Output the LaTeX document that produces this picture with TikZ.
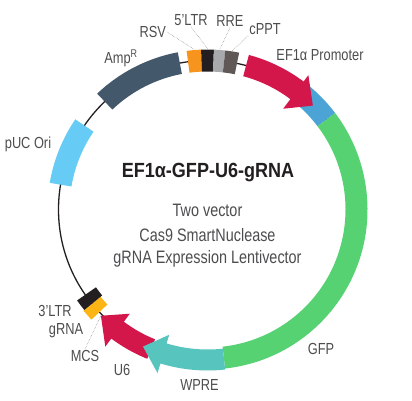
\documentclass[tikz,border=0pt]{standalone}
\usepackage{fontspec}
\setmainfont[FakeStretch=0.8]{Liberation Sans}
\newfontfamily\titlefont[FakeStretch=0.88]{Liberation Sans}
\definecolor{cRed}{HTML}{D3174A}
\definecolor{cBlue}{HTML}{4BA3D6}
\definecolor{cGreen}{HTML}{56D273}
\definecolor{cTeal}{HTML}{58C4BE}
\definecolor{cSky}{HTML}{66CBF5}
\definecolor{cAmp}{HTML}{43596B}
\definecolor{cOrange}{HTML}{F7941D}
\definecolor{cYellow}{HTML}{FDB515}
\definecolor{cBlack}{HTML}{231F20}
\definecolor{cGray}{HTML}{A7A9AC}
\definecolor{cDark}{HTML}{5F5856}
\definecolor{cText}{HTML}{4D4D4F}
\begin{document}
\begin{tikzpicture}[x=1pt,y=1pt,
  lab/.style={text=cText,font=\fontsize{16}{16}\selectfont,inner sep=1pt},
  mid/.style={text=cText,font=\fontsize{18}{18}\selectfont,inner sep=1pt},
  leader/.style={cText!70,densely dotted,line width=0.5pt}]
\useasboundingbox (-207.5,-190.5) rectangle (204.5,209.5);
\draw [cBlack,line width=1.3pt] (0,0) circle (149);
% features
\fill [cSky] (145.7:138) arc (145.7:170.4:138) -- (170.4:160) arc (170.4:145.7:160) -- cycle;
\fill [cAmp] (133.6:138) arc (133.6:100.7:138) -- (100.7:160) arc (100.7:133.6:160) -- cycle;
\fill [cOrange] (97.5:138) arc (97.5:92.3:138) -- (92.3:160) arc (92.3:97.5:160) -- cycle;
\fill [cBlack] (92.3:138) arc (92.3:87.7:138) -- (87.7:160) arc (87.7:92.3:160) -- cycle;
\fill [cGray] (87.7:138) arc (87.7:83.6:138) -- (83.6:160) arc (83.6:87.7:160) -- cycle;
\fill [cDark] (83.6:138) arc (83.6:78.6:138) -- (78.6:160) arc (78.6:83.6:160) -- cycle;
\fill [cBlue] (51.5:138) arc (51.5:37.1:138) -- (37.1:160) arc (37.1:51.5:160) -- cycle;
\fill [cRed] (75:138) arc (75:53.1:138) -- (53.1:126) -- (44.6:148) -- (53.1:168) -- (53.1:160) arc (53.1:75:160) -- cycle;
\fill [cGreen] (37.1:138) arc (37.1:-83.7:138) -- (-83.7:160) arc (-83.7:37.1:160) -- cycle;
\fill [cRed] (-112:140) arc (-112:-126.7:140) -- (-126.7:130) -- (-135.1:150.5) -- (-126.7:171) -- (-126.7:161) arc (-126.7:-112:161) -- cycle;
\fill [cTeal] (-83.7:140) arc (-83.7:-107:140) -- (-107:131) -- (-115.2:151.5) -- (-107:171) -- (-107:161) arc (-107:-83.7:161) -- cycle;
\fill [cYellow] (-136.5:138) arc (-136.5:-140.8:138) -- (-140.8:160) arc (-140.8:-136.5:160) -- cycle;
\fill [cBlack] (-140.8:136) arc (-140.8:-145.1:136) -- (-145.1:159) arc (-145.1:-140.8:159) -- cycle;
% labels
\node [lab] (rsv) at (-54.8,177.5) {RSV};
\node [lab] (ltrfive) at (-16.5,189.5) {5’LTR};
\node [lab] (rre) at (22.5,188.5) {RRE};
\node [lab] (cppt) at (57.5,180.5) {cPPT};
\node [lab] (ef) at (112.5,154.5) {EF1α Promoter};
\node [lab] (amp) at (-86.5,151.5) {Amp\textsuperscript{R}};
\node [lab] (puc) at (-179.5,65.5) {pUC Ori};
\node [lab] (ltrthree) at (-152.5,-101.5) {3’LTR};
\node [lab] (grna) at (-141.5,-121.5) {gRNA};
\node [lab] (mcs) at (-122.5,-146.5) {MCS};
\node [lab] (usix) at (-85.5,-160.5) {U6};
\node [lab] (wpre) at (-8,-175.5) {WPRE};
\node [lab] (gfp) at (113.5,-139.5) {GFP};
\node [text=cBlack,font=\fontsize{20.5}{20.5}\selectfont\titlefont\bfseries,inner sep=1pt] (title) at (0.5,36.5) {EF1α-GFP-U6-gRNA};
\node [mid] (lineone) at (0,-0.5) {Two vector};
\node [mid] (linetwo) at (0,-25.5) {Cas9 SmartNuclease};
\node [mid] (linethree) at (0,-49.5) {gRNA Expression Lentivector};
% dotted leaders
\coordinate (rsvend) at (94.9:161);
\coordinate (ltrend) at (90:161);
\coordinate (rreend) at (85.6:161);
\coordinate (cpptend) at (81.1:161);
\coordinate (mcsend) at (-135.1:150.5);
\draw [leader] (rsv.east) -- (rsvend);
\draw [leader] (ltrfive.south) -- (ltrend);
\draw [leader] (rre.south) -- (rreend);
\draw [leader] (cppt.south west) -- (cpptend);
\draw [leader] (mcs.north) -- (mcsend);
\end{tikzpicture}
\end{document}
